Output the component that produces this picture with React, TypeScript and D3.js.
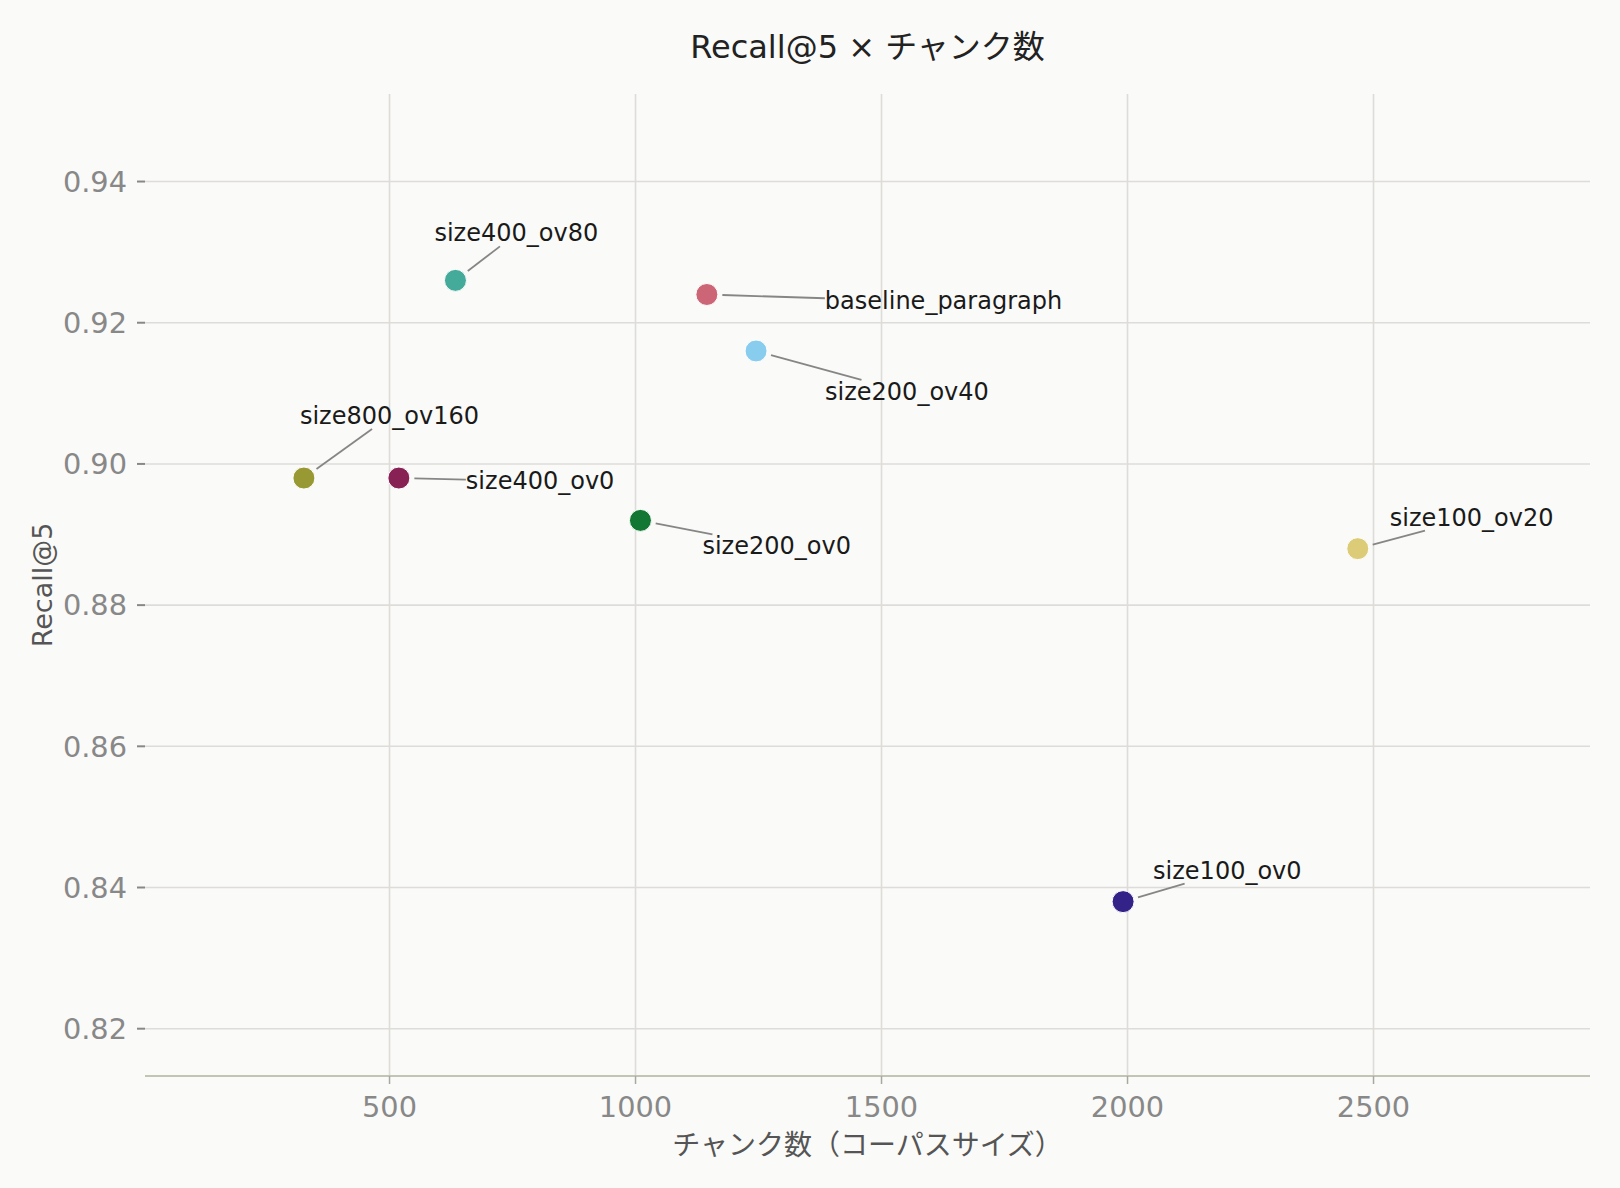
import React, { useMemo } from "react";
import * as d3 from "d3";

// chunking configs
const names = [
    "size400_ov80",
    "baseline_paragraph",
    "size200_ov40",
    "size800_ov160",
    "size400_ov0",
    "size200_ov0",
    "size100_ov20",
    "size100_ov0",
];
const chunkCounts = [634, 1145, 1245, 326, 519, 1010, 2468, 1991];
const recallAt5 = [0.926, 0.924, 0.916, 0.898, 0.898, 0.892, 0.888, 0.838];
const colors = ["#44AA99", "#CC6677", "#88CCEE", "#999933", "#882255", "#117733", "#DDCC77", "#332288"];
const xTicks = [500, 1000, 1500, 2000, 2500];
const yTicks = [0.82, 0.84, 0.86, 0.88, 0.9, 0.92, 0.94];

// label placement relative to its dot: [text left, baseline] in px
const labelOffsets = [
    [-21, -39],
    [118, 15],
    [69, 49],
    [-4, -54],
    [67, 11],
    [62, 34],
    [32, -23],
    [30, -23],
];

const width = 1620;
const height = 1188;
const margin = { top: 94, right: 30, bottom: 112, left: 145 };

const latin = "'DejaVu Sans', 'Noto Sans CJK JP', sans-serif";
const cjk = "'Noto Sans CJK JP', 'DejaVu Sans', sans-serif";
const labelSize = 24;

let ctx: CanvasRenderingContext2D | null = null;
const textWidth = (s: string) => {
    if (!ctx) {
        ctx = document.createElement("canvas").getContext("2d");
    }
    if (!ctx) return s.length * labelSize * 0.57;
    ctx.font = `${labelSize}px 'DejaVu Sans'`;
    return ctx.measureText(s).width;
};

export default function App() {
    const x = useMemo(
        () => d3.scaleLinear().domain([3, 2940]).range([margin.left, width - margin.right]),
        []
    );
    const y = useMemo(
        () => d3.scaleLinear().domain([0.8133, 0.9524]).range([height - margin.bottom, margin.top]),
        []
    );

    const [x0, x1] = x.range();
    const [y0, y1] = y.range(); // y0 bottom, y1 top
    const cxMid = (x0 + x1) / 2;
    const cyMid = (y0 + y1) / 2;
    const fmt = d3.format(".2f");

    const labels = useMemo(
        () =>
            names.map((name, i) => {
                const cx = x(chunkCounts[i]);
                const cy = y(recallAt5[i]);
                const lx = cx + labelOffsets[i][0];
                const by = cy + labelOffsets[i][1];
                const w = textWidth(name);
                const box = { l: lx, r: lx + w, t: by - 20, b: by + 5 };
                const vx = lx + w / 2 - cx;
                const vy = by - 7.5 - cy;
                const tx = vx > 0 ? (box.l - cx) / vx : vx < 0 ? (box.r - cx) / vx : -Infinity;
                const ty = vy > 0 ? (box.t - cy) / vy : vy < 0 ? (box.b - cy) / vy : -Infinity;
                const t = Math.max(tx, ty);
                const len = Math.hypot(vx, vy);
                const line =
                    t > 0 && len * t > 18
                        ? {
                              x1: cx + (vx / len) * 15.5,
                              y1: cy + (vy / len) * 15.5,
                              x2: cx + vx * t,
                              y2: cy + vy * t,
                          }
                        : null;
                return { name, cx, cy, lx, by, line, color: colors[i] };
            }),
        [x, y]
    );

    return (
        <svg
            width={width}
            height={height}
            style={{ position: "absolute", top: 0, left: 0, background: "#fafaf8" }}
        >
            <rect width={width} height={height} fill="#fafaf8" />
            {/* grid */}
            {xTicks.map((t) => (
                <line key={`gx${t}`} x1={x(t)} x2={x(t)} y1={y1} y2={y0} stroke="#dedcd8" strokeWidth={1.6} />
            ))}
            {yTicks.map((t) => (
                <line key={`gy${t}`} x1={x0} x2={x1} y1={y(t)} y2={y(t)} stroke="#dedcd8" strokeWidth={1.6} />
            ))}
            {/* x axis */}
            <line x1={x0} x2={x1} y1={y0} y2={y0} stroke="#c4c4b6" strokeWidth={2} />
            {xTicks.map((t) => (
                <g key={`xt${t}`}>
                    <line x1={x(t)} x2={x(t)} y1={y0} y2={y0 + 8} stroke="#a8a8a0" strokeWidth={1.5} />
                    <text
                        x={x(t)}
                        y={y0 + 41}
                        textAnchor="middle"
                        fontFamily={latin}
                        fontSize={28.8}
                        fill="#888"
                    >
                        {t}
                    </text>
                </g>
            ))}
            {/* y axis */}
            {yTicks.map((t) => (
                <g key={`yt${t}`}>
                    <line x1={x0 - 8} x2={x0} y1={y(t)} y2={y(t)} stroke="#888" strokeWidth={2} />
                    <text
                        x={x0 - 18}
                        y={y(t)}
                        dy="0.36em"
                        textAnchor="end"
                        fontFamily={latin}
                        fontSize={28.8}
                        fill="#888"
                    >
                        {fmt(t)}
                    </text>
                </g>
            ))}
            {/* leaders */}
            {labels.map((d) =>
                d.line ? (
                    <line key={`ld${d.name}`} {...d.line} stroke="#868686" strokeWidth={1.8} />
                ) : null
            )}
            {/* dots */}
            {labels.map((d) => (
                <circle key={`pt${d.name}`} cx={d.cx} cy={d.cy} r={11} fill={d.color} stroke="#fff" strokeWidth={1} />
            ))}
            {labels.map((d) => (
                <text key={`lb${d.name}`} x={d.lx} y={d.by} fontFamily={latin} fontSize={labelSize} fill="#1a1a1a">
                    {d.name}
                </text>
            ))}
            {/* titles */}
            <text x={cxMid} y={57.7} textAnchor="middle" fontFamily={latin} fontSize={32} fill="#222">
                Recall@5 × <tspan fontFamily={cjk}>チャンク数</tspan>
            </text>
            <text x={cxMid} y={1155} textAnchor="middle" fontFamily={cjk} fontSize={28} fill="#555">
                チャンク数（コーパスサイズ）
            </text>
            <text
                transform={`translate(52,${cyMid}) rotate(-90)`}
                textAnchor="middle"
                fontFamily={latin}
                fontSize={27}
                fill="#555"
            >
                Recall@5
            </text>
        </svg>
    );
}
